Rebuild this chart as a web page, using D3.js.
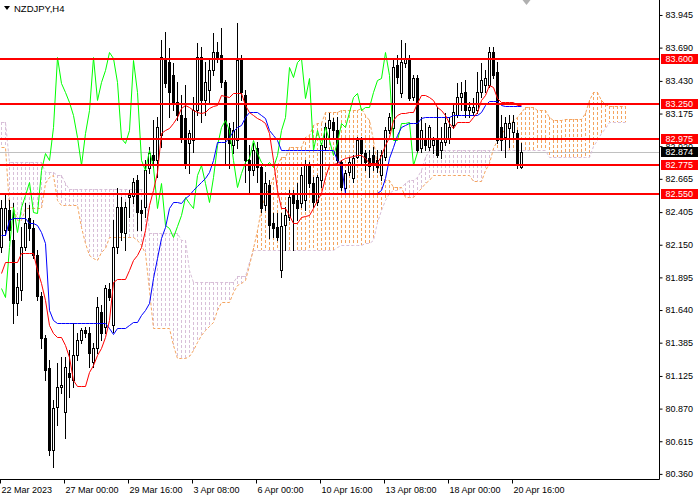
<!DOCTYPE html>
<html>
<head>
<style>
  body { margin: 0; background: #fff; }
  svg text { font-family: "Liberation Sans", Arial, sans-serif; }
</style>
</head>
<body>
<svg id="chart" width="700" height="500"></svg>
<script src="https://cdn.jsdelivr.net/npm/d3@7/dist/d3.min.js"></script>
<script>
// NZDJPY H4, bars 22 Mar 2023 .. 21 Apr 2023 (131 bars), Ichimoku 9/26/52

const open = [
  82.132,82.265,82.421,82.187,81.695,81.796,82.132,82.359,82.281,82.070,
  81.750,81.421,81.187,80.546,80.882,81.039,80.843,81.148,81.093,81.289,
  81.406,81.484,81.460,81.234,81.343,81.625,81.507,81.804,81.523,82.132,
  82.445,82.242,82.523,82.531,82.656,82.421,82.445,82.750,82.851,82.812,
  83.007,83.609,83.578,83.476,83.265,83.164,83.140,82.945,82.968,83.203,
  83.617,83.281,83.359,83.515,83.656,83.632,83.421,83.062,82.929,82.968,
  83.593,83.320,82.812,82.734,82.906,82.757,82.460,82.617,82.320,82.289,
  81.953,82.304,82.367,82.539,82.500,82.476,82.500,82.773,82.632,82.484,
  82.656,82.914,83.062,83.109,83.046,82.796,82.593,82.718,82.671,82.835,
  82.968,82.867,82.828,82.851,82.812,82.695,82.835,83.046,83.062,83.554,
  83.335,83.570,83.593,83.304,83.453,82.906,82.984,82.914,82.929,82.984,
  82.890,82.953,82.984,83.085,83.164,83.304,83.343,83.203,83.187,83.203,
  83.343,83.398,83.398,83.656,83.500,83.070,82.992,83.062,83.031,83.023,
  82.757];
const high = [
  82.500,82.554,82.500,82.476,81.929,82.289,82.476,82.460,82.343,82.109,
  81.781,81.445,81.250,80.937,81.226,81.273,81.273,81.328,81.539,81.460,
  81.500,81.507,81.507,81.382,81.742,81.679,81.835,81.851,82.343,82.593,
  82.523,82.484,82.578,82.671,82.695,82.500,82.812,82.914,83.125,83.148,
  83.750,83.812,83.687,83.570,83.421,83.320,83.398,83.046,83.304,83.726,
  83.695,83.578,83.609,83.804,83.734,83.843,83.437,83.101,83.109,83.882,
  83.632,83.359,82.929,82.945,82.953,82.773,82.718,82.656,82.398,82.398,
  82.398,82.445,82.578,82.578,82.632,82.757,82.812,82.796,82.679,82.695,
  82.945,83.101,83.179,83.140,83.148,82.812,82.734,82.835,82.851,82.992,
  82.992,82.890,82.890,82.914,82.890,82.890,83.070,83.179,83.593,83.632,
  83.750,83.726,83.632,83.476,83.476,83.148,83.101,83.085,82.992,83.226,
  83.070,83.179,83.148,83.257,83.414,83.421,83.437,83.265,83.296,83.500,
  83.570,83.515,83.695,83.695,83.578,83.164,83.148,83.164,83.164,83.046,
  82.945];
const low = [
  82.093,82.226,82.187,81.539,81.601,81.718,82.109,82.187,82.046,81.718,
  81.343,81.093,80.507,80.414,80.742,80.992,80.640,80.960,81.039,81.250,
  81.382,81.429,81.195,81.195,81.304,81.406,81.460,81.718,81.468,82.085,
  82.187,82.109,82.367,82.476,82.265,82.265,82.367,82.710,82.757,82.679,
  82.914,83.382,83.148,83.203,83.125,82.953,82.750,82.710,82.874,83.164,
  83.109,83.164,83.265,83.476,83.578,83.382,82.773,82.750,82.867,82.906,
  83.281,82.640,82.562,82.695,82.640,82.406,82.421,82.203,82.210,82.187,
  81.898,82.109,82.343,82.109,82.343,82.445,82.421,82.601,82.445,82.460,
  82.601,82.890,82.992,82.984,82.789,82.578,82.554,82.695,82.640,82.828,
  82.789,82.734,82.679,82.734,82.718,82.656,82.812,83.023,82.992,83.414,
  83.304,83.539,83.281,83.281,82.874,82.874,82.890,82.890,82.867,82.835,
  82.828,82.929,82.945,83.062,83.148,83.203,83.148,83.148,83.164,83.179,
  83.304,83.343,83.382,83.453,82.945,82.890,82.835,82.914,82.992,82.750,
  82.750];
const close = [
  82.437,82.437,82.265,81.695,81.820,82.132,82.320,82.281,82.070,81.750,
  81.421,81.171,80.546,80.875,81.039,81.054,81.195,81.117,81.289,81.406,
  81.484,81.460,81.304,81.343,81.664,81.460,81.812,81.742,82.132,82.445,
  82.250,82.445,82.539,82.640,82.406,82.398,82.734,82.867,82.812,83.070,
  83.617,83.414,83.343,83.265,83.164,82.992,82.773,83.023,83.203,83.617,
  83.281,83.421,83.515,83.656,83.609,83.421,82.984,82.945,83.046,83.593,
  83.343,82.812,82.734,82.890,82.757,82.437,82.632,82.304,82.281,82.210,
  82.296,82.382,82.523,82.476,82.437,82.695,82.773,82.632,82.484,82.679,
  82.929,83.070,83.125,83.046,82.812,82.601,82.710,82.796,82.828,82.968,
  82.867,82.796,82.765,82.796,82.757,82.851,83.046,83.148,83.539,83.460,
  83.578,83.609,83.296,83.453,82.890,83.046,82.929,83.070,82.968,82.851,
  82.953,83.101,83.070,83.187,83.304,83.335,83.203,83.226,83.226,83.343,
  83.437,83.453,83.656,83.476,82.968,82.968,83.101,83.101,83.109,82.773,
  82.874];

const tenkan = [
  81.929,82.015,82.015,82.015,82.015,82.085,82.085,82.085,82.085,81.953,
  81.851,81.718,81.523,81.460,81.429,81.429,81.367,81.273,81.093,81.046,
  81.046,81.046,81.156,81.210,81.289,81.343,81.429,81.562,81.859,81.882,
  81.882,81.882,81.953,82.031,82.070,82.132,82.265,82.460,82.578,82.718,
  83.023,83.046,83.062,83.101,83.148,83.218,83.242,83.226,83.203,83.187,
  83.179,83.187,83.218,83.234,83.242,83.320,83.312,83.304,83.335,83.335,
  83.335,83.242,83.187,83.164,83.140,83.125,83.101,83.023,82.812,82.578,
  82.437,82.437,82.382,82.320,82.320,82.367,82.375,82.382,82.437,82.500,
  82.554,82.679,82.773,82.781,82.789,82.812,82.828,82.835,82.843,82.851,
  82.851,82.828,82.789,82.789,82.789,82.851,82.929,82.992,83.125,83.164,
  83.179,83.179,83.187,83.187,83.257,83.320,83.320,83.304,83.281,83.226,
  83.203,83.164,83.101,83.062,83.109,83.109,83.109,83.109,83.148,83.187,
  83.281,83.320,83.398,83.382,83.296,83.265,83.265,83.265,83.265,83.242,
  83.242];
const kijun = [
  82.226,82.226,82.343,82.359,82.359,82.359,82.359,82.320,82.320,82.304,
  82.250,82.164,81.640,81.562,81.539,81.539,81.539,81.539,81.539,81.539,
  81.539,81.539,81.539,81.539,81.539,81.539,81.539,81.500,81.453,81.500,
  81.500,81.500,81.523,81.546,81.546,81.601,81.640,81.695,81.890,82.046,
  82.203,82.289,82.437,82.484,82.484,82.476,82.515,82.539,82.578,82.609,
  82.640,82.671,82.718,82.812,82.953,82.953,82.953,82.992,83.039,83.070,
  83.085,83.148,83.187,83.187,83.187,83.164,83.140,83.046,83.007,82.968,
  82.890,82.890,82.890,82.890,82.890,82.890,82.890,82.890,82.890,82.890,
  82.890,82.890,82.890,82.890,82.812,82.773,82.554,82.554,82.554,82.554,
  82.554,82.554,82.554,82.554,82.554,82.578,82.671,82.828,82.914,83.007,
  83.070,83.085,83.101,83.101,83.101,83.140,83.148,83.148,83.148,83.148,
  83.148,83.148,83.148,83.164,83.164,83.164,83.164,83.164,83.164,83.164,
  83.187,83.242,83.273,83.273,83.273,83.242,83.234,83.234,83.234,83.234,
  83.234];
// senkou spans run 26 bars past the last candle
const spanA = [
  82.914,82.914,82.445,82.445,82.343,82.343,82.437,82.437,82.437,82.437,
  82.437,82.632,82.679,82.695,82.500,82.460,82.460,82.460,82.460,82.460,
  82.289,82.164,82.070,82.046,82.031,82.093,82.125,82.210,82.210,82.210,
  82.210,82.210,82.210,82.210,82.187,82.148,82.085,81.796,81.500,81.500,
  81.500,81.500,81.500,81.367,81.265,81.265,81.265,81.281,81.328,81.390,
  81.445,81.484,81.515,81.546,81.640,81.703,81.703,81.703,81.781,81.835,
  81.851,81.875,81.992,82.125,82.265,82.437,82.539,82.601,82.679,82.773,
  82.835,82.835,82.914,82.914,82.914,82.914,82.992,83.007,83.085,83.101,
  83.101,83.187,83.187,83.187,83.187,83.203,83.203,83.203,83.203,83.203,
  83.218,83.164,83.125,82.968,82.773,82.679,82.656,82.656,82.601,82.601,
  82.601,82.523,82.523,82.523,82.562,82.593,82.632,82.656,82.695,82.695,
  82.695,82.695,82.695,82.695,82.695,82.695,82.695,82.695,82.648,82.648,
  82.648,82.734,82.789,82.906,82.968,83.015,83.062,83.101,83.125,83.148,
  83.187,83.226,83.226,83.226,83.203,83.203,83.203,83.148,83.125,83.125,
  83.125,83.132,83.132,83.132,83.132,83.132,83.179,83.281,83.343,83.343,
  83.281,83.250,83.234,83.234,83.234,83.234,83.234];
const spanB = [
  83.109,83.109,82.796,82.796,82.796,82.796,82.796,82.796,82.796,82.796,
  82.796,82.718,82.718,82.718,82.695,82.695,82.632,82.585,82.585,82.585,
  82.585,82.585,82.585,82.585,82.585,82.585,82.585,82.585,82.585,82.585,
  82.585,82.585,82.585,82.585,82.585,82.585,82.585,82.242,82.242,82.242,
  82.242,82.242,82.242,82.242,82.242,82.187,82.187,81.953,81.859,81.859,
  81.859,81.859,81.859,81.859,81.859,81.859,81.859,81.859,81.859,81.906,
  81.906,81.906,82.015,82.109,82.109,82.109,82.109,82.109,82.109,82.109,
  82.109,82.109,82.109,82.109,82.109,82.109,82.109,82.109,82.109,82.109,
  82.109,82.109,82.109,82.109,82.132,82.148,82.148,82.148,82.148,82.148,
  82.148,82.164,82.164,82.187,82.328,82.421,82.500,82.554,82.578,82.578,
  82.601,82.632,82.656,82.656,82.679,82.734,82.835,82.890,82.890,82.890,
  82.890,82.890,82.890,82.890,82.890,82.890,82.890,82.890,82.890,82.890,
  82.890,82.890,82.890,82.890,82.890,82.890,82.890,82.890,82.890,82.890,
  82.890,82.890,82.890,82.890,82.890,82.890,82.890,82.835,82.835,82.835,
  82.835,82.835,82.835,82.835,82.835,82.835,82.835,82.835,82.921,82.968,
  83.023,83.062,83.109,83.109,83.109,83.109,83.109];

const levels = [83.600, 83.250, 82.975, 82.775, 82.550];
const lastPrice = 82.874;
const priceTicks = [83.945, 83.690, 83.430, 83.175, 82.920, 82.665, 82.405, 82.150,
                    81.895, 81.640, 81.385, 81.125, 80.870, 80.615, 80.360];
const timeTicks = [0, 16, 32, 48, 64, 80, 96, 112, 128];
const timeLabels = ['22 Mar 2023', '27 Mar 00:00', '29 Mar 16:00', '3 Apr 08:00', '6 Apr 00:00',
                    '10 Apr 16:00', '13 Apr 08:00', '18 Apr 00:00', '20 Apr 16:00'];
const symbol = 'NZDJPY,H4';

const plotW = 659, plotH = 479;
const svg = d3.select('#chart');

// one bar every 4px, price scale 128px per yen
const x = d3.scaleLinear().domain([0, 1]).range([1.5, 5.5]);
const y = d3.scaleLinear().domain([80.320, 84.062]).range([plotH, 0]);
const py = v => Math.round(y(v));

svg.append('defs').append('clipPath').attr('id', 'clip')
  .append('rect').attr('width', plotW).attr('height', plotH);

const plot = svg.append('g').attr('clip-path', 'url(#clip)');

// current price line (behind everything)
plot.append('line')
  .attr('x1', 0).attr('x2', plotW)
  .attr('y1', py(lastPrice) + 0.5).attr('y2', py(lastPrice) + 0.5)
  .attr('stroke', '#c0c0c0');

// kumo: one dotted vertical per bar, colour by the upper span
const sandy = '#f4a460', thistle = '#d8bfd8';
const kumoIdx = d3.range(spanA.length);
function kumoPath(bull) {
  return kumoIdx
    .filter(i => (spanA[i] >= spanB[i]) === bull)
    .map(i => `M${x(i)},${py(Math.max(spanA[i], spanB[i]))}V${py(Math.min(spanA[i], spanB[i]))}`)
    .join('');
}
let kumo = plot.append('g').attr('shape-rendering', 'crispEdges');
kumo.append('path').attr('d', kumoPath(false))
  .attr('fill', 'none').attr('stroke', thistle).attr('stroke-dasharray', '3,2');
kumo.append('path').attr('d', kumoPath(true))
  .attr('fill', 'none').attr('stroke', sandy).attr('stroke-dasharray', '3,2');

let line = d3.line().x((d, i) => x(i)).y(d => py(d) + 0.5);

plot.append('path').datum(spanB).attr('d', line)
  .attr('fill', 'none').attr('stroke', thistle).attr('stroke-dasharray', '3,2');
plot.append('path').datum(spanA).attr('d', line)
  .attr('fill', 'none').attr('stroke', sandy).attr('stroke-dasharray', '3,2');

// candles
const bars = d3.range(close.length);
let candles = plot.append('g').attr('shape-rendering', 'crispEdges');
candles.selectAll('line')
  .data(bars)
  .join('line')
    .attr('x1', i => x(i)).attr('x2', i => x(i))
    .attr('y1', i => py(high[i])).attr('y2', i => py(low[i]) + 1)
    .attr('stroke', '#000');
candles.selectAll('rect')
  .data(bars)
  .join('rect')
    .attr('x', i => x(i) - 1)
    .attr('width', 2)
    .attr('y', i => py(Math.max(open[i], close[i])) + 0.5)
    .attr('height', i => Math.max(0, py(Math.min(open[i], close[i])) - py(Math.max(open[i], close[i]))))
    .attr('fill', i => close[i] >= open[i] ? '#fff' : '#000')
    .attr('stroke', '#000');

// chikou = close shifted 26 bars back
plot.append('path').datum(close.slice(26)).attr('d', line)
  .attr('fill', 'none').attr('stroke', '#00ff00');
plot.append('path').datum(kijun).attr('d', line)
  .attr('fill', 'none').attr('stroke', '#0000ff');
plot.append('path').datum(tenkan).attr('d', line)
  .attr('fill', 'none').attr('stroke', '#ff0000');

// horizontal levels
plot.append('g').selectAll('line')
  .data(levels)
  .join('line')
    .attr('x1', 0).attr('x2', plotW)
    .attr('y1', d => py(d)).attr('y2', d => py(d))
    .attr('stroke', '#ff0000').attr('stroke-width', 2);

// frame
svg.append('path')
  .attr('d', `M${plotW + 0.5},0V${plotH + 0.5}H0`)
  .attr('fill', 'none').attr('stroke', '#000');

// price axis
let yAxis = svg.append('g')
  .attr('transform', `translate(${plotW + 0.5},0)`)
  .call(d3.axisRight(y).tickValues(priceTicks).tickSize(3).tickPadding(3).tickFormat(d3.format('.3f')));
yAxis.select('.domain').remove();
yAxis.selectAll('text').attr('font-size', 9).attr('font-family', null).attr('fill', '#000');

// time axis, ticks sit on the left edge of the bar
let xAxis = svg.append('g')
  .attr('transform', `translate(-1.5,${plotH + 0.5})`)
  .call(d3.axisBottom(x).tickValues(timeTicks).tickSize(4).tickPadding(3)
        .tickFormat((d, k) => timeLabels[k]));
xAxis.select('.domain').remove();
xAxis.selectAll('text').attr('font-size', 9).attr('font-family', null)
  .attr('text-anchor', 'start').attr('x', 1).attr('fill', '#000');

// level tags on the price scale
let tags = svg.append('g');
function tag(value, color) {
  let yy = py(value);
  tags.append('rect').attr('x', plotW + 2).attr('y', yy - 5)
    .attr('width', 37).attr('height', 10).attr('fill', color);
  tags.append('text').attr('x', plotW + 6.5).attr('y', yy).attr('dy', '0.33em')
    .attr('font-size', 9).attr('fill', '#fff').text(d3.format('.3f')(value));
}
levels.forEach(v => tag(v, '#ff0000'));
tag(lastPrice, '#000');

// symbol caption
svg.append('path').attr('d', 'M4,6L10,6L7,10Z').attr('fill', '#000');
svg.append('text').attr('x', 14).attr('y', 12)
  .attr('font-size', 9.5).attr('fill', '#000').text(symbol);

// chart shift marker
let sx = x(close.length) + 1;
svg.append('path')
  .attr('d', `M${sx - 4},0L${sx + 4},0L${sx},5Z`)
  .attr('fill', '#b0b0b0');
</script>
</body>
</html>
